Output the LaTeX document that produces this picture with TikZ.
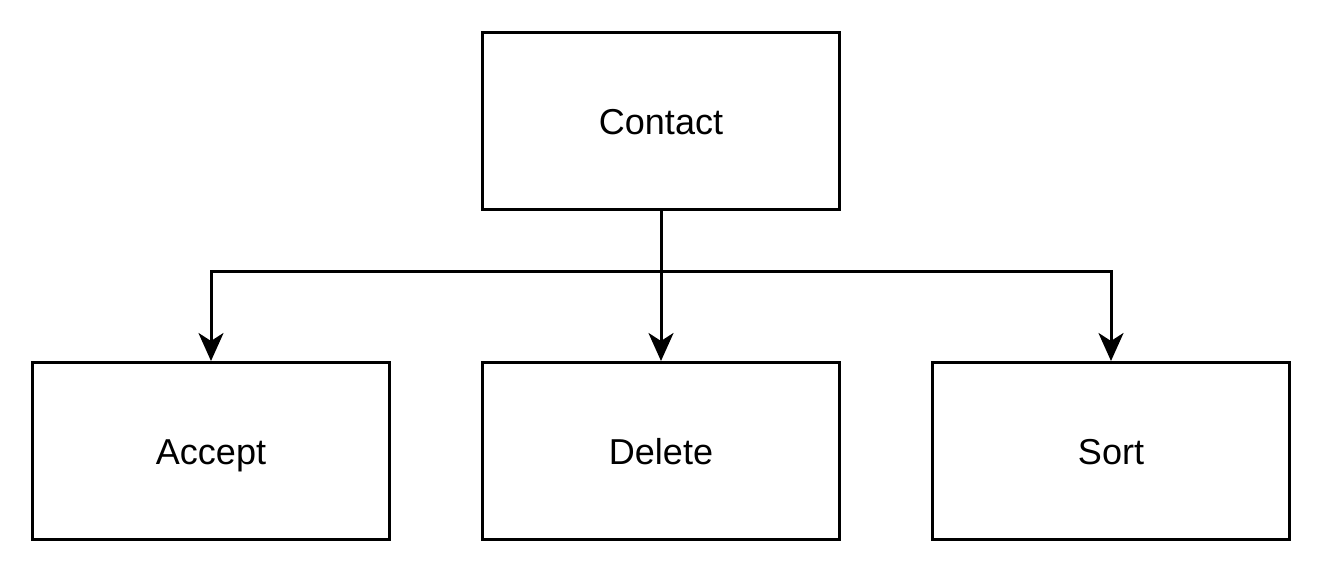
\documentclass[tikz,border=0pt]{standalone}
\usepackage{fontspec}
\setmainfont{Liberation Sans}
\usetikzlibrary{arrows.meta,positioning}

\begin{document}
\begin{tikzpicture}[
  box/.style={draw=black,line width=0.06cm,minimum width=7.14cm,minimum height=3.54cm,
     inner sep=0pt,text height=0.66cm,text depth=0.14cm,font=\fontsize{20.5}{24}\selectfont},
  arr/.style={-{Stealth[length=0.56cm,width=0.5cm,inset=0.16cm]},line width=0.06cm}]
\useasboundingbox (0,0) rectangle (26.46,-11.46);
\node[box] (contact) at (13.22,-2.42) {Contact};
\node[box] (accept) at (4.22,-9.02) {Accept};
\node[box] (delete) at (13.22,-9.02) {Delete};
\node[box] (sort) at (22.22,-9.02) {Sort};
\coordinate (split) at (13.22,-5.42);
\draw[arr] (contact.south) -- (split) -| (accept.north);
\draw[arr] (split) -| (sort.north);
\draw[arr] (contact.south) -- (delete.north);
\end{tikzpicture}
\end{document}
